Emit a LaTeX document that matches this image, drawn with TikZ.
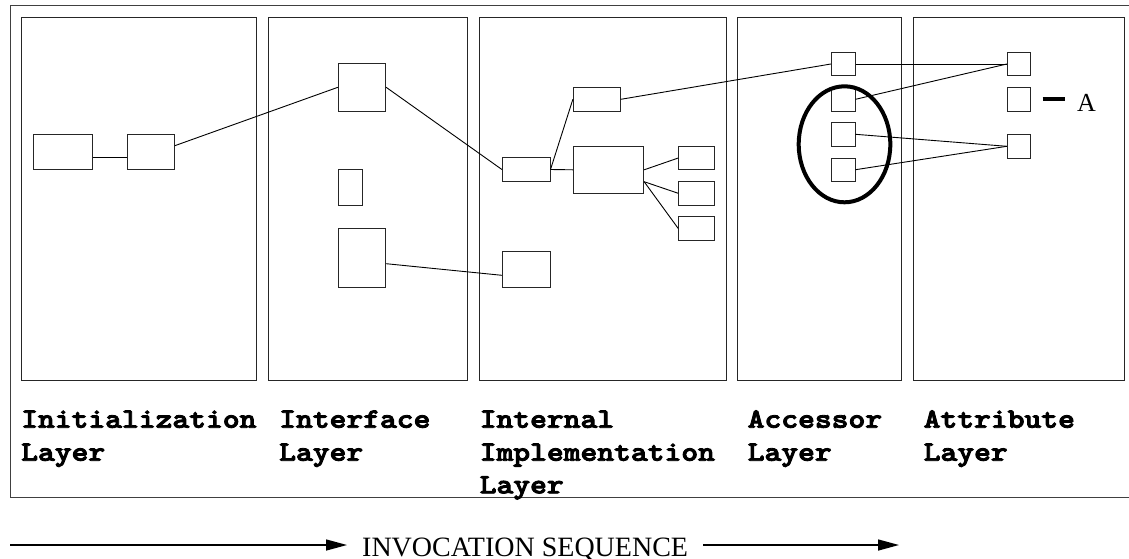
\documentclass[tikz,border=0pt]{standalone}
\usepackage{fontspec}
\usepackage{graphicx}
\newfontfamily\tms{Liberation Serif}
\newfontfamily\courb{lmmonolt10-bold.otf}[FakeBold=3]
\usetikzlibrary{arrows.meta,shapes.geometric,calc}
\newcommand\mylab[1]{\scalebox{1.143}[1]{#1}}
\begin{document}
\begin{tikzpicture}[x=1pt,y=-1pt,
  panel/.style={draw=black!85, line width=0.9pt, rectangle, inner sep=0pt,
    minimum width=#1pt, minimum height=363.7pt},
  box/.style 2 args={draw=black!85, line width=0.9pt, rectangle, inner sep=0pt,
    minimum width=#1pt, minimum height=#2pt},
  conn/.style={line width=0.9pt},
  lab/.style={font=\courb\fontsize{28}{33}\selectfont, anchor=base west, inner sep=0pt},
  arr/.style={line width=1.5pt, -{Triangle[length=21pt,width=11pt]}}]
\useasboundingbox (0,0) rectangle (1129,558);
% outer frame
\draw[draw=black!75, line width=1pt] (10,5.3) rectangle (1145,497.7);
% panels
\node[panel=235]   (L1) at (138.8,198.85) {};
\node[panel=199.7] (L2) at (367.85,198.85) {};
\node[panel=247]   (L3) at (602.5,198.85) {};
\node[panel=164.4] (L4) at (819.5,198.85) {};
\node[panel=211.4] (L5) at (1019,198.85) {};
% initialization layer
\node[box={59}{35.4}]   (A) at (62.8,152) {};
\node[box={47.3}{35.4}] (B) at (150.7,152) {};
% interface layer
\node[box={47.4}{47.3}] (C) at (362,87.3) {};
\node[box={24}{35.7}]   (Ls) at (350.3,187.2) {};
\node[box={47.4}{58.7}] (K) at (362,257.7) {};
% internal implementation layer
\node[box={47.7}{23.6}] (D) at (526.2,169.5) {};
\node[box={47}{23.3}]   (E) at (596.8,99.3) {};
\node[box={70.4}{47}]   (G) at (608.5,169.8) {};
\node[box={35.6}{23.4}] (H1) at (696.5,158) {};
\node[box={35.6}{23.4}] (H2) at (696.5,193.3) {};
\node[box={35.6}{23.4}] (H3) at (696.5,228.5) {};
\node[box={47.7}{35.6}] (J) at (526.2,269.5) {};
% accessor layer
\node[box={23.7}{23.4}] (F)  at (843.2,64) {};
\node[box={23.7}{23.4}] (Q1) at (843.2,99.3) {};
\node[box={23.7}{23.4}] (Q2) at (843.2,134.3) {};
\node[box={23.7}{23.4}] (Q3) at (843.2,169.7) {};
\node[draw, ellipse, line width=4pt, inner sep=0pt, minimum width=91.6pt, minimum height=116pt] (grp) at (844.5,144.3) {};
% attribute layer
\node[box={23.4}{23.4}] (P1) at (1019,64) {};
\node[box={23.4}{23.4}] (P2) at (1019,99.3) {};
\node[box={23.4}{23.4}] (P3) at (1019,146.3) {};
\coordinate (d1) at (1042.7,99);
\coordinate (d2) at (1065,99);
\draw[line width=4pt] (d1) -- (d2);
\node[font=\tms\fontsize{26}{28}\selectfont, anchor=base west, inner sep=0pt] (Alab) at (1077,111) {A};
% connectors
\draw[conn] ([yshift=-5.7pt]A.east) -- ([yshift=-5.7pt]B.west);
\draw[conn] ([yshift=6.3pt]B.east) -- (C.west);
\draw[conn] (C.east) -- (D.west);
\draw[conn] ([yshift=-6pt]K.east) -- ([yshift=-5.8pt]J.west);
\draw[conn] (D.east) -- (E.west);
\draw[conn] (D.east) -- (G.west);
\draw[conn] (E.east) -- (F.west);
\draw[conn] (G.east) -- (H1.west);
\draw[conn] ([yshift=-11.9pt]G.east) -- (H2.west);
\draw[conn] ([yshift=-11.9pt]G.east) -- (H3.west);
\draw[conn] (F.east) -- (P1.west);
\draw[conn] (Q1.east) -- (P1.west);
\draw[conn] (Q2.east) -- (P3.west);
\draw[conn] (Q3.east) -- (P3.west);
% layer labels
\node[lab] (t1a) at (21,427.7) {\mylab{Initialization}};
\node[lab] (t1b) at (21,460.7) {\mylab{Layer}};
\node[lab] (t2a) at (279,427.7) {\mylab{Interface}};
\node[lab] (t2b) at (279,460.7) {\mylab{Layer}};
\node[lab] (t3a) at (479.5,427.7) {\mylab{Internal}};
\node[lab] (t3b) at (479.5,460.7) {\mylab{Implementation}};
\node[lab] (t3c) at (479.5,493.3) {\mylab{Layer}};
\node[lab] (t4a) at (747.5,427.7) {\mylab{Accessor}};
\node[lab] (t4b) at (747.5,460.7) {\mylab{Layer}};
\node[lab] (t5a) at (923.5,427.7) {\mylab{Attribute}};
\node[lab] (t5b) at (923.5,460.7) {\mylab{Layer}};
% invocation sequence
\coordinate (s1) at (10,545);
\coordinate (s2) at (347,545);
\node[font=\tms\fontsize{28}{30}\selectfont, anchor=base west, inner sep=0pt] (seq) at (362,556.5) {INVOCATION SEQUENCE};
\coordinate (s3) at (703,545);
\coordinate (s4) at (899,545);
\draw[arr] (s1) -- (s2);
\draw[arr] (s3) -- (s4);
\end{tikzpicture}
\end{document}
